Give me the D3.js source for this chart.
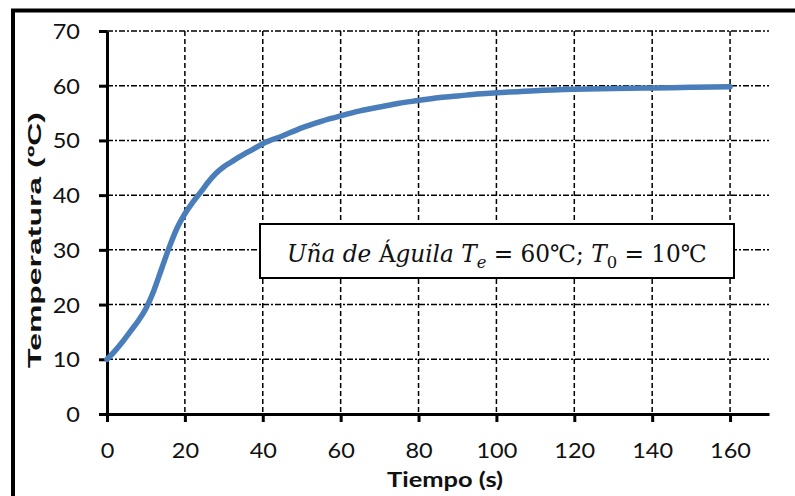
<!DOCTYPE html>
<html>
<head>
<meta charset="utf-8">
<script src="https://cdn.jsdelivr.net/npm/d3@7"></script>
<style>
  html, body { margin: 0; padding: 0; background: #fff; }
  svg { display: block; }
</style>
</head>
<body>
<svg id="chart" width="795" height="496"></svg>
<script>
// Heating curve: time (s) vs temperature (°C)
const tiempo = [0, 2, 4, 6, 8, 10, 12, 14, 16, 18, 20, 22, 24, 26, 28, 30, 32, 34, 36, 38, 40,
  45, 50, 55, 60, 65, 70, 75, 80, 85, 90, 95, 100, 110, 120, 130, 140, 150, 160];
const temperatura = [10, 11.5, 13.2, 15.1, 17.0, 19.3, 22.5, 26.5, 30.5, 34.0, 36.6, 38.7, 40.5, 42.4, 44.0, 45.2, 46.1, 47.0, 47.8, 48.6, 49.4,
  50.8, 52.3, 53.5, 54.5, 55.4, 56.1, 56.8, 57.3, 57.8, 58.1, 58.5, 58.7, 59.1, 59.35, 59.5, 59.6, 59.7, 59.8];
const xTicks = [0, 20, 40, 60, 80, 100, 120, 140, 160];
const yTicks = [0, 10, 20, 30, 40, 50, 60, 70];
const xTitle = "Tiempo (s)";
const yTitle = "Temperatura (ºC)";

const svg = d3.select("#chart");
const plotLeft = 107, plotRight = 769, plotTop = 31, plotBottom = 414;

const x = d3.scaleLinear().domain([0, 170]).range([plotLeft, plotRight]);
const y = d3.scaleLinear().domain([0, 70]).range([plotBottom, plotTop]);

// outer frame
svg.append("rect")
  .attr("x", 13).attr("y", 10.5).attr("width", 820).attr("height", 520)
  .attr("fill", "none").attr("stroke", "#000").attr("stroke-width", 4);

// gridlines
const grid = svg.append("g");
grid.selectAll("line.h").data(yTicks.filter(d => d > 0)).join("line")
  .attr("class", "h")
  .attr("x1", plotLeft).attr("x2", plotRight)
  .attr("y1", d => y(d)).attr("y2", d => y(d))
  .attr("stroke", "#000").attr("stroke-width", 1.5)
  .attr("stroke-dasharray", "6,2,2,2");
grid.selectAll("line.v").data(xTicks.filter(d => d > 0)).join("line")
  .attr("class", "v")
  .attr("x1", d => x(d)).attr("x2", d => x(d))
  .attr("y1", plotTop).attr("y2", plotBottom)
  .attr("stroke", "#000").attr("stroke-width", 1.5)
  .attr("stroke-dasharray", "5,3");

// axes
const xAxis = svg.append("g")
  .attr("transform", `translate(0,${plotBottom})`)
  .call(d3.axisBottom(x).tickValues(xTicks).tickSize(8).tickSizeOuter(0));
const yAxis = svg.append("g")
  .attr("transform", `translate(${plotLeft},0)`)
  .call(d3.axisLeft(y).tickValues(yTicks).tickSize(8).tickSizeOuter(0));

[xAxis, yAxis].forEach(g => {
  g.select(".domain").attr("stroke", "#000").attr("stroke-width", 3);
  g.selectAll(".tick line").attr("stroke", "#000").attr("stroke-width", 3);
  g.selectAll(".tick text")
    .attr("font-family", "Lato, 'Open Sans', sans-serif")
    .attr("font-size", 21)
    .attr("fill", "#111");
});
xAxis.selectAll(".tick text")
  .attr("y", 0).attr("dy", 0)
  .attr("transform", "translate(0,44) scale(1.12,1)");
yAxis.selectAll(".tick text")
  .attr("x", 0).attr("dy", "0.36em")
  .attr("text-anchor", "end")
  .attr("transform", "translate(-27,0) scale(1.12,1)");

// temperature curve
const line = d3.line()
  .x((d, i) => x(tiempo[i]))
  .y(d => y(d))
  .curve(d3.curveMonotoneX);
svg.append("path")
  .datum(temperatura)
  .attr("d", line)
  .attr("fill", "none")
  .attr("stroke", "#4A7EBB")
  .attr("stroke-width", 5.5)
  .attr("stroke-linecap", "round")
  .attr("stroke-linejoin", "round");

// annotation box
const note = svg.append("g");
note.append("rect")
  .attr("x", 260).attr("y", 224).attr("width", 474).attr("height", 54)
  .attr("fill", "#fff").attr("stroke", "#000").attr("stroke-width", 2);
const noteText = note.append("text")
  .attr("x", 0).attr("y", 0)
  .attr("font-family", "'DejaVu Serif', 'Liberation Serif', serif")
  .attr("font-size", 24)
  .attr("fill", "#111");
noteText.append("tspan").attr("font-style", "italic").text("Uña de ");
noteText.append("tspan").text("Á");
noteText.append("tspan").attr("font-style", "italic").text("guila T");
noteText.append("tspan").attr("font-style", "italic").attr("font-size", 17).attr("dy", 6).text("e");
noteText.append("tspan").attr("dy", -6).text(" = 60℃; ");
noteText.append("tspan").attr("font-style", "italic").text("T");
noteText.append("tspan").attr("font-size", 17).attr("dy", 6).text("0");
noteText.append("tspan").attr("dy", -6).text(" = 10℃");
{
  const w = noteText.node().getBBox().width;
  noteText.attr("transform", `translate(287,262) scale(${420 / w},1)`);
}

// axis titles
svg.append("text")
  .attr("x", 445).attr("y", 487)
  .attr("text-anchor", "middle")
  .attr("font-family", "Lato, 'Open Sans', sans-serif")
  .attr("font-weight", "bold")
  .attr("font-size", 21)
  .attr("textLength", 116).attr("lengthAdjust", "spacingAndGlyphs")
  .attr("fill", "#111")
  .text(xTitle);

svg.append("text")
  .attr("transform", "translate(41,240) rotate(-90)")
  .attr("text-anchor", "middle")
  .attr("font-family", "'Liberation Sans', Arial, sans-serif")
  .attr("font-weight", "bold")
  .attr("font-size", 19)
  .attr("textLength", 256).attr("lengthAdjust", "spacingAndGlyphs")
  .attr("fill", "#111")
  .text(yTitle);
</script>
</body>
</html>
